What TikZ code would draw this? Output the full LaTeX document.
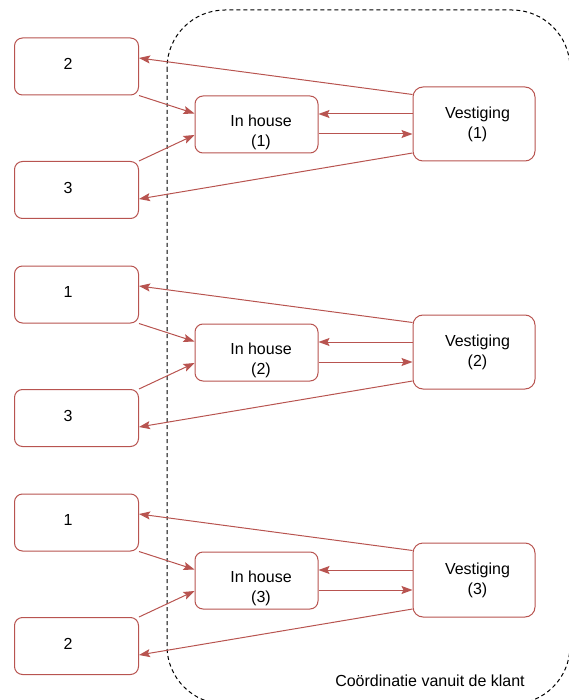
\documentclass[tikz,border=0pt]{standalone}
\usepackage{fontspec}
\setmainfont{Liberation Sans}
\usetikzlibrary{arrows.meta}
\definecolor{linkred}{HTML}{B85450}
\begin{document}
\begin{tikzpicture}[x=1pt,y=-1pt,
  every node/.style={font=\fontsize{16}{20}\selectfont},
  srcbox/.style={draw=linkred,line width=1pt,fill=white,rounded corners=8pt,
    minimum width=124pt,minimum height=57pt,inner sep=0pt},
  housebox/.style={srcbox,minimum width=123pt},
  sitebox/.style={draw=linkred,line width=1pt,fill=white,rounded corners=10pt,
    minimum width=122pt,minimum height=74pt,inner sep=0pt},
  txt/.style={align=center,inner sep=0pt},
  flow/.style={draw=linkred,line width=1pt,
    -{Stealth[length=11pt,width=8pt,inset=2pt]}},
  zone/.style={draw=black,line width=1pt,dash pattern=on 4pt off 3pt,
    rounded corners=58pt}]
\useasboundingbox (0,0) rectangle (568,700);

% client coordination area
\draw[zone] (167,10) rectangle (570,704);
\node[anchor=base] (klant) at (430,686) {Coördinatie vanuit de klant};

% three groups: two external sites, an in-house team and a branch
\foreach \g/\a/\b [evaluate=\g as \d using {(\g-1)*228}] in {1/2/3,2/1/3,3/1/2}{
  \node[srcbox] (top\g) at (76.5,66.5+\d) {};
  \node[txt] (topt\g) at ([xshift=-8.5pt,yshift=2.5pt]top\g.center) {\a};
  \node[srcbox] (bot\g) at (76.5,190+\d) {};
  \node[txt] (bott\g) at ([xshift=-8.5pt,yshift=2.5pt]bot\g.center) {\b};
  \node[housebox] (ih\g) at (256.5,124.5+\d) {};
  \node[txt] (iht\g) at ([xshift=4.5pt,yshift=-8pt]ih\g.center) {In house\\(\g)};
  \node[sitebox] (vs\g) at (474,124+\d) {};
  \node[txt] (vst\g) at ([xshift=3.5pt,yshift=0pt]vs\g.center) {Vestiging\\(\g)};

  \draw[flow] ([yshift=-8pt]vs\g.north west) -- ([yshift=8.5pt]top\g.east);
  \draw[flow] (top\g.south east) -- ([yshift=11pt]ih\g.west);
  \draw[flow] (bot\g.north east) -- ([yshift=-10.5pt]ih\g.west);
  \draw[flow] ([yshift=10pt]vs\g.west) -- ([yshift=10.5pt]ih\g.east);
  \draw[flow] ([yshift=-9.5pt]ih\g.east) -- ([yshift=-10pt]vs\g.west);
  \draw[flow] ([yshift=8.5pt]vs\g.south west) -- ([yshift=-9pt]bot\g.east);
}
\end{tikzpicture}
\end{document}
